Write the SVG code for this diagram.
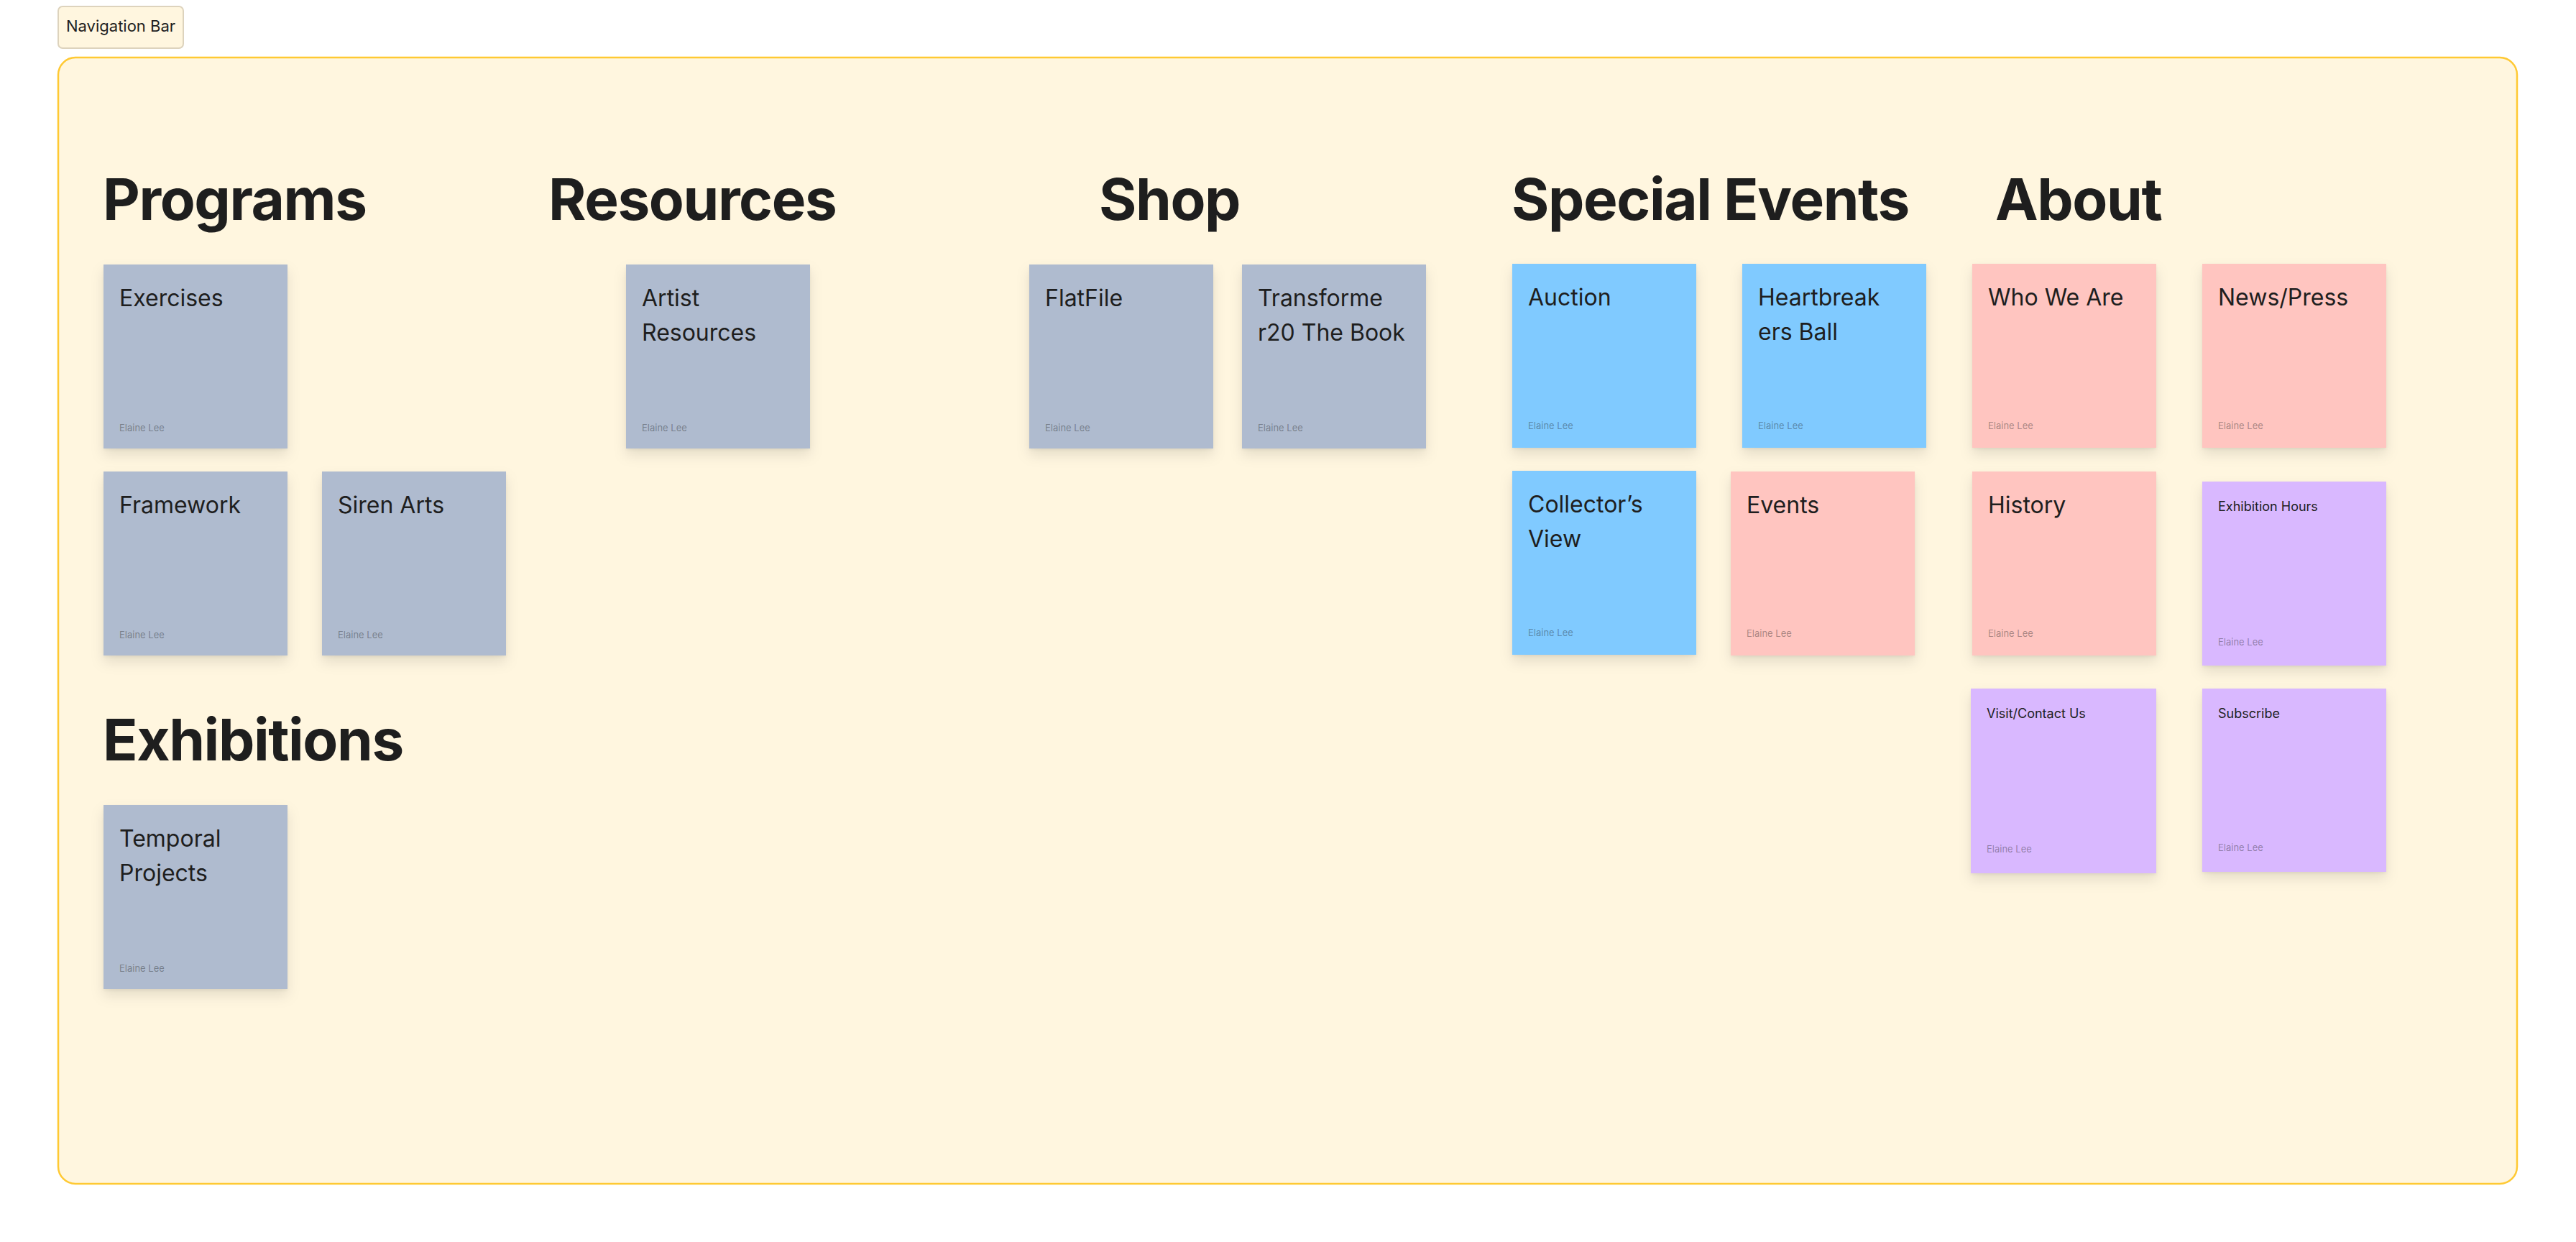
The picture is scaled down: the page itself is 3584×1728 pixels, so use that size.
<svg xmlns="http://www.w3.org/2000/svg" width="3584" height="1728" viewBox="0 0 3584 1728">
  <style>
    .board { fill: #FFF6DF; stroke: #FFC933; stroke-width: 2.5; }
    .nav { fill: #FFF6DF; stroke: #DDD3BD; stroke-width: 2; }
    .nav-label { font-family: Inter, "Noto Sans", sans-serif; font-size: 22px; fill: #1e1e1e; }
    .heading { font-family: Inter, "Noto Sans", sans-serif; font-size: 80px; font-weight: 700; fill: #1e1e1e; letter-spacing: -1.4px; }
    .slate { fill: #AFBBCF; }
    .blue { fill: #80CAFF; }
    .pink { fill: #FFC5C0; }
    .purple { fill: #D9B8FF; }
    .title { font-family: Inter, "Noto Sans", sans-serif; font-size: 32px; fill: #1e1e1e; }
    .title-sm { font-family: Inter, "Noto Sans", sans-serif; font-size: 18px; fill: #1e1e1e; }
    .author { font-family: Inter, "Noto Sans", sans-serif; font-size: 13px; fill: #1e1e1e; fill-opacity: 0.4; }
  </style>
  <defs>
    <filter id="sticky-shadow" x="-20%" y="-20%" width="140%" height="150%">
      <feDropShadow dx="0" dy="2" stdDeviation="2" flood-color="#000" flood-opacity="0.06"/>
      <feDropShadow dx="0" dy="9" stdDeviation="9" flood-color="#000" flood-opacity="0.10"/>
    </filter>
  </defs>

  <rect width="3584" height="1728" fill="#FFFFFF"/>

  <!-- section frame -->
  <g id="nav-bar">
    <rect class="nav" x="81" y="9" width="174" height="58" rx="6"/>
    <text class="nav-label" x="92" y="44">Navigation Bar</text>
  </g>
  <g id="board">
    <rect class="board" x="81" y="80" width="3421" height="1567" rx="24"/>
  </g>

  <!-- section headings -->
  <g id="heading-programs"><text class="heading" x="143" y="306">Programs</text></g>
  <g id="heading-resources"><text class="heading" x="763" y="306">Resources</text></g>
  <g id="heading-shop"><text class="heading" x="1529" y="306">Shop</text></g>
  <g id="heading-special-events"><text class="heading" x="2103" y="306">Special Events</text></g>
  <g id="heading-about"><text class="heading" x="2776" y="306">About</text></g>
  <g id="heading-exhibitions"><text class="heading" x="143" y="1058">Exhibitions</text></g>

  <!-- Programs -->
  <g id="sticky-exercises" transform="translate(144,368)">
    <rect class="slate" width="256" height="256" filter="url(#sticky-shadow)"/>
    <text class="title" x="22" y="58">Exercises</text>
    <text class="author" x="22" y="232">Elaine Lee</text>
  </g>
  <g id="sticky-framework" transform="translate(144,656)">
    <rect class="slate" width="256" height="256" filter="url(#sticky-shadow)"/>
    <text class="title" x="22" y="58">Framework</text>
    <text class="author" x="22" y="232">Elaine Lee</text>
  </g>
  <g id="sticky-siren-arts" transform="translate(448,656)">
    <rect class="slate" width="256" height="256" filter="url(#sticky-shadow)"/>
    <text class="title" x="22" y="58">Siren Arts</text>
    <text class="author" x="22" y="232">Elaine Lee</text>
  </g>

  <!-- Exhibitions -->
  <g id="sticky-temporal-projects" transform="translate(144,1120)">
    <rect class="slate" width="256" height="256" filter="url(#sticky-shadow)"/>
    <text class="title" x="22" y="58">Temporal</text>
    <text class="title" x="22" y="106">Projects</text>
    <text class="author" x="22" y="232">Elaine Lee</text>
  </g>

  <!-- Resources -->
  <g id="sticky-artist-resources" transform="translate(871,368)">
    <rect class="slate" width="256" height="256" filter="url(#sticky-shadow)"/>
    <text class="title" x="22" y="58">Artist</text>
    <text class="title" x="22" y="106">Resources</text>
    <text class="author" x="22" y="232">Elaine Lee</text>
  </g>

  <!-- Shop -->
  <g id="sticky-flatfile" transform="translate(1432,368)">
    <rect class="slate" width="256" height="256" filter="url(#sticky-shadow)"/>
    <text class="title" x="22" y="58">FlatFile</text>
    <text class="author" x="22" y="232">Elaine Lee</text>
  </g>
  <g id="sticky-transformer20" transform="translate(1728,368)">
    <rect class="slate" width="256" height="256" filter="url(#sticky-shadow)"/>
    <text class="title" x="22" y="58">Transforme</text>
    <text class="title" x="22" y="106">r20 The Book</text>
    <text class="author" x="22" y="232">Elaine Lee</text>
  </g>

  <!-- Special Events -->
  <g id="sticky-auction" transform="translate(2104,367)">
    <rect class="blue" width="256" height="256" filter="url(#sticky-shadow)"/>
    <text class="title" x="22" y="58">Auction</text>
    <text class="author" x="22" y="230">Elaine Lee</text>
  </g>
  <g id="sticky-heartbreakers-ball" transform="translate(2424,367)">
    <rect class="blue" width="256" height="256" filter="url(#sticky-shadow)"/>
    <text class="title" x="22" y="58">Heartbreak</text>
    <text class="title" x="22" y="106">ers Ball</text>
    <text class="author" x="22" y="230">Elaine Lee</text>
  </g>
  <g id="sticky-collectors-view" transform="translate(2104,655)">
    <rect class="blue" width="256" height="256" filter="url(#sticky-shadow)"/>
    <text class="title" x="22" y="58">Collector’s</text>
    <text class="title" x="22" y="106">View</text>
    <text class="author" x="22" y="230">Elaine Lee</text>
  </g>
  <g id="sticky-events" transform="translate(2408,656)">
    <rect class="pink" width="256" height="256" filter="url(#sticky-shadow)"/>
    <text class="title" x="22" y="58">Events</text>
    <text class="author" x="22" y="230">Elaine Lee</text>
  </g>

  <!-- About -->
  <g id="sticky-who-we-are" transform="translate(2744,367)">
    <rect class="pink" width="256" height="256" filter="url(#sticky-shadow)"/>
    <text class="title" x="22" y="58">Who We Are</text>
    <text class="author" x="22" y="230">Elaine Lee</text>
  </g>
  <g id="sticky-news-press" transform="translate(3064,367)">
    <rect class="pink" width="256" height="256" filter="url(#sticky-shadow)"/>
    <text class="title" x="22" y="58">News/Press</text>
    <text class="author" x="22" y="230">Elaine Lee</text>
  </g>
  <g id="sticky-history" transform="translate(2744,656)">
    <rect class="pink" width="256" height="256" filter="url(#sticky-shadow)"/>
    <text class="title" x="22" y="58">History</text>
    <text class="author" x="22" y="230">Elaine Lee</text>
  </g>
  <g id="sticky-exhibition-hours" transform="translate(3064,670)">
    <rect class="purple" width="256" height="256" filter="url(#sticky-shadow)"/>
    <text class="title-sm" x="22" y="41">Exhibition Hours</text>
    <text class="author" x="22" y="228">Elaine Lee</text>
  </g>
  <g id="sticky-visit-contact" transform="translate(2742,958)">
    <rect class="purple" width="258" height="257" filter="url(#sticky-shadow)"/>
    <text class="title-sm" x="22" y="41">Visit/Contact Us</text>
    <text class="author" x="22" y="228">Elaine Lee</text>
  </g>
  <g id="sticky-subscribe" transform="translate(3064,958)">
    <rect class="purple" width="256" height="255" filter="url(#sticky-shadow)"/>
    <text class="title-sm" x="22" y="41">Subscribe</text>
    <text class="author" x="22" y="226">Elaine Lee</text>
  </g>
</svg>
